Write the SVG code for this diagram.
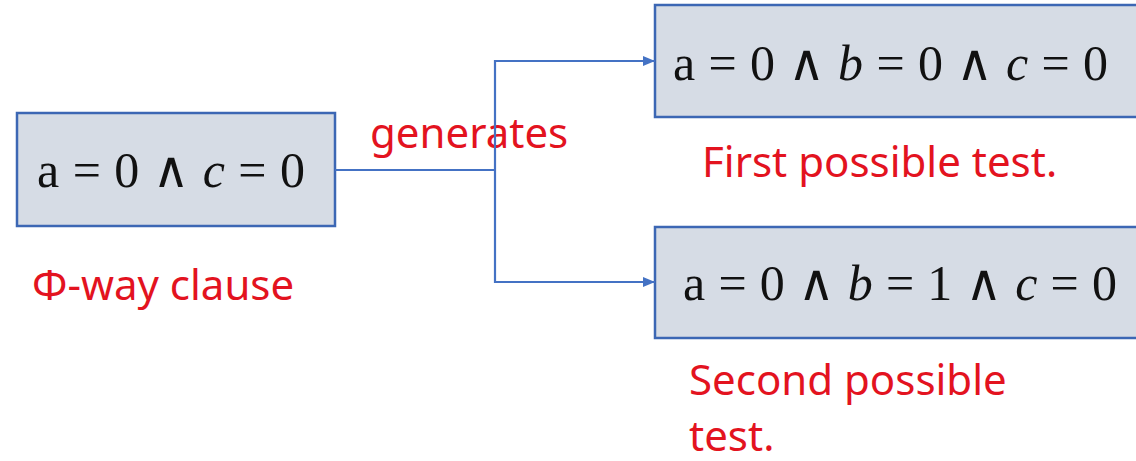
<svg xmlns="http://www.w3.org/2000/svg" width="1136" height="461" viewBox="0 0 1136 461">
  <style>
    .box { fill: #d6dce5; stroke: #3c67b4; stroke-width: 2.5; }
    .math { font-family: "Liberation Serif", "DejaVu Serif", serif; font-size: 50px; fill: #111; }
    .math .v { font-style: italic; }
    .note { font-family: "Noto Sans", "Open Sans", sans-serif; font-size: 42px; fill: #e3131f; }
    .wire { fill: none; stroke: #4472c4; stroke-width: 2.2; }
  </style>
  <defs>
    <marker id="arrow" viewBox="0 0 12 10" refX="12" refY="5" markerWidth="12" markerHeight="10" markerUnits="userSpaceOnUse" orient="auto">
      <path d="M0,0 L12,5 L0,10 Z" fill="#4472c4"/>
    </marker>
  </defs>

  <g id="clause">
    <rect class="box" x="17" y="113" width="318" height="113"/>
    <text class="math" x="37" y="187" textLength="268" lengthAdjust="spacing">a = 0 ∧ <tspan class="v">c</tspan> = 0</text>
    <text class="note" x="32" y="300">Φ-way clause</text>
  </g>

  <g id="test1">
    <rect class="box" x="655" y="5" width="490" height="112"/>
    <text class="math" x="673" y="80" textLength="435" lengthAdjust="spacing">a = 0 ∧ <tspan class="v">b</tspan> = 0 ∧ <tspan class="v">c</tspan> = 0</text>
    <text class="note" x="702" y="177">First possible test.</text>
  </g>

  <g id="test2">
    <rect class="box" x="655" y="227" width="490" height="111"/>
    <text class="math" x="683" y="300" textLength="434" lengthAdjust="spacing">a = 0 ∧ <tspan class="v">b</tspan> = 1 ∧ <tspan class="v">c</tspan> = 0</text>
    <text class="note" x="689" y="395">Second possible</text>
    <text class="note" x="689" y="451">test.</text>
  </g>

  <text class="note" x="370" y="148">generates</text>

  <g id="connectors">
    <path class="wire" d="M335,170 H495"/>
    <path class="wire" d="M495,170 V61 H655" marker-end="url(#arrow)"/>
    <path class="wire" d="M495,170 V282 H655" marker-end="url(#arrow)"/>
  </g>
</svg>
